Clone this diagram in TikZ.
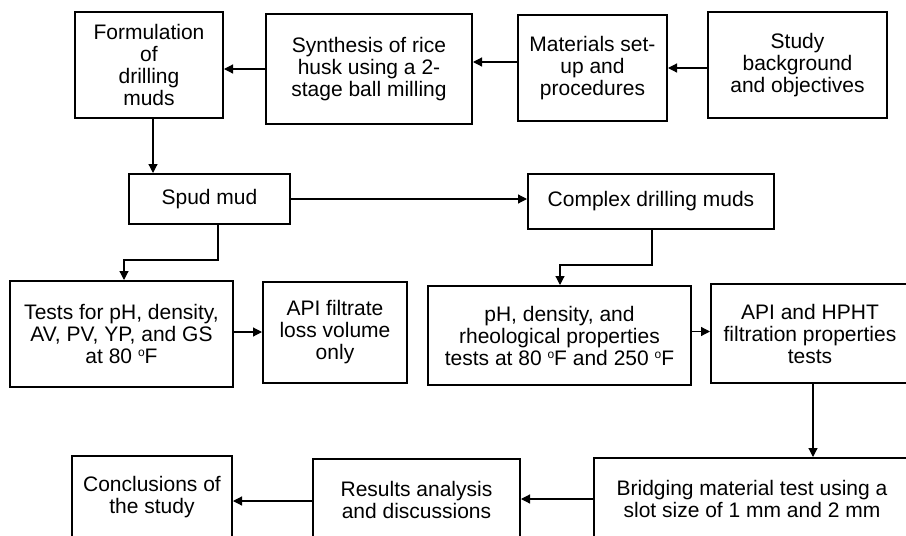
\documentclass[tikz,border=0pt]{standalone}
\usepackage{fontspec}
\setmainfont{Liberation Sans}
\usetikzlibrary{arrows.meta}
\newcommand{\degsup}{\raisebox{7pt}{\fontsize{12}{12}\selectfont o}}
\begin{document}
\begin{tikzpicture}[x=1pt,y=-1pt,
  box/.style={draw,line width=2pt,align=center,inner sep=0pt,
    font=\fontsize{21}{22}\selectfont},
  arr/.style={line width=1.2pt,-{Triangle[length=9pt,width=9pt]}},
  con/.style={line width=1.2pt}]
\useasboundingbox (0,0) rectangle (906,536);
\clip (0,0) rectangle (906,536);
\fill[white] (0,0) rectangle (906,536);
% top row
\node[box,minimum width=148pt,minimum height=106pt] (form) at (149,65) {Formulation\\of\\drilling\\muds};
\node[box,minimum width=206pt,minimum height=110pt] (synth) at (369,69) {Synthesis of rice\\husk using a 2-\\stage ball milling};
\node[box,minimum width=149pt,minimum height=106pt] (mat) at (592.5,68) {Materials set-\\up and\\procedures};
\node[box,minimum width=179pt,minimum height=106pt] (study) at (797.5,65) {Study\\background\\and objectives};
% second row
\node[box,minimum width=161pt,minimum height=50pt] (spud) at (209.5,199) {Spud mud};
\node[box,minimum width=246pt,minimum height=55pt] (complex) at (651,201.5) {Complex drilling muds};
% third row
\node[box,minimum width=223pt,minimum height=106pt] (tests) at (121.5,334) {Tests for pH, density,\\AV, PV, YP, and GS\\at 80 \degsup F};
\node[box,minimum width=144pt,minimum height=101pt] (apif) at (335,332.5) {API filtrate\\loss volume\\only};
\node[box,minimum width=263pt,minimum height=99pt] (ph) at (559.5,335.5) {pH, density, and\\rheological properties\\tests at 80 \degsup F and 250 \degsup F};
\node[box,minimum width=198pt,minimum height=99pt] (hpht) at (810,333.5) {API and HPHT\\filtration properties\\tests};
% bottom row
\node[box,minimum width=316pt,minimum height=82pt] (bridge) at (752,499) {Bridging material test using a\\slot size of 1 mm and 2 mm};
\node[box,minimum width=207pt,minimum height=82pt] (results) at (416.5,500) {Results analysis\\and discussions};
\node[box,minimum width=160pt,minimum height=82pt] (concl) at (152,497) {Conclusions of\\the study};
% connectors
\draw[arr] ([yshift=-3pt]study.west) -- ([yshift=-3pt]study.west -| mat.east);
\draw[arr] ([yshift=6pt]mat.west) -- ([yshift=6pt]mat.west -| synth.east);
\draw[arr] (synth.west) -- (synth.west -| form.east);
\coordinate (f1) at (153,118);
\draw[arr] (f1 |- form.south) -- (f1 |- spud.north);
\draw[arr] (spud.east) -- (spud.east -| complex.west);
\coordinate (j1) at (218,260);
\coordinate (j2) at (124,260);
\draw[arr] (j1 |- spud.south) -- (j1) -- (j2) -- (j2 |- tests.north);
\draw[arr] ([yshift=2pt]tests.east) -- ([yshift=2pt]tests.east -| apif.west);
\coordinate (k1) at (652,265);
\coordinate (k2) at (560,265);
\draw[arr] (k1 |- complex.south) -- (k1) -- (k2) -- (k2 |- ph.north);
\draw[arr] ([yshift=4pt]ph.east) -- ([yshift=4pt]ph.east -| hpht.west);
\coordinate (h1) at (813,420);
\draw[arr] (h1 |- hpht.south) -- (h1 |- bridge.north);
\draw[arr] (bridge.west) -- (bridge.west -| results.east);
\draw[arr] ([yshift=-1pt]results.west) -- ([yshift=-1pt]results.west -| concl.east);
\end{tikzpicture}
\end{document}
